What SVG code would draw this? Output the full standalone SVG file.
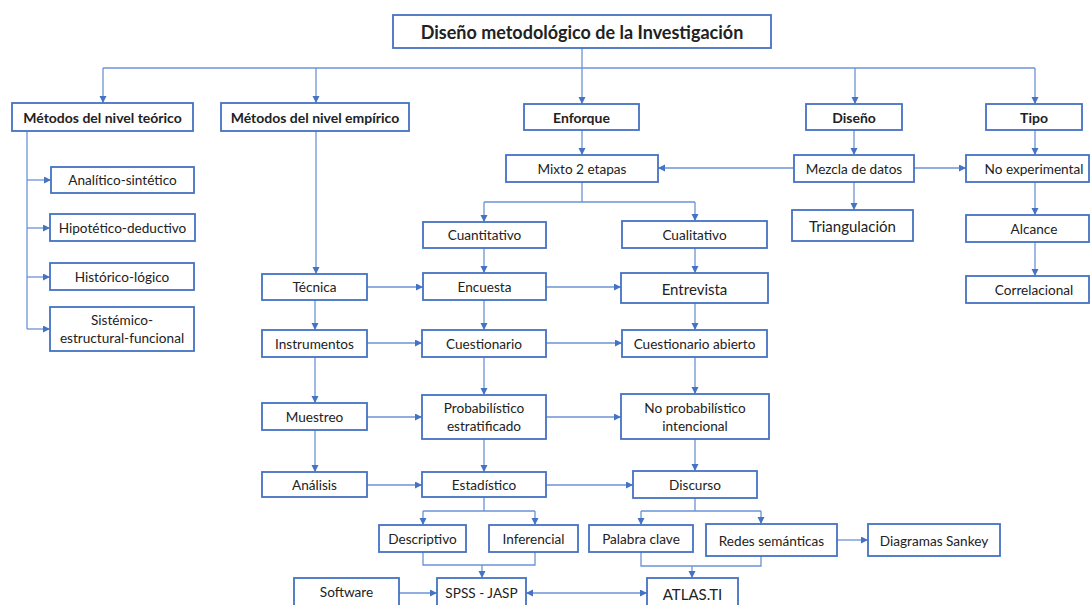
<svg xmlns="http://www.w3.org/2000/svg" width="1091" height="605" viewBox="0 0 1091 605">
<style>
.box{fill:#fff;stroke:#4472C4;stroke-width:1.8}
.t{font-family:Lato,"Liberation Sans",sans-serif;font-size:13.6px;fill:#222;text-anchor:middle;dominant-baseline:central}
.b{font-weight:bold;font-size:14px}
.l{font-size:15px}
.c{fill:none;stroke:#6b93d6;stroke-width:1.3}
.a{marker-end:url(#ah)}
</style>
<defs>
<marker id="ah" markerUnits="userSpaceOnUse" markerWidth="8" markerHeight="8" refX="7" refY="3.5" orient="auto-start-reverse">
<path d="M0,0 L7,3.5 L0,7 z" fill="#4472C4"/>
</marker>
</defs>
<rect width="1091" height="605" fill="#fff"/>
<g id="connectors">
<path class="c a" d="M582,48V104"/>
<path class="c" d="M103,68H1035"/>
<path class="c a" d="M103,68V103"/>
<path class="c a" d="M316,68V103"/>
<path class="c a" d="M855,68V104"/>
<path class="c a" d="M1035,68V104"/>
<path class="c" d="M27,131V329"/>
<path class="c a" d="M27,180H51"/>
<path class="c a" d="M27,228H50"/>
<path class="c a" d="M27,277H50"/>
<path class="c a" d="M27,329H50"/>
<path class="c a" d="M316,131V274"/>
<path class="c a" d="M315,300V330"/>
<path class="c a" d="M315,357V403"/>
<path class="c a" d="M315,430V472"/>
<path class="c a" d="M367,287H423"/>
<path class="c a" d="M546,287H621"/>
<path class="c a" d="M367,343H422"/>
<path class="c a" d="M546,343H622"/>
<path class="c a" d="M367,417H422"/>
<path class="c a" d="M546,417H621"/>
<path class="c a" d="M367,485H422"/>
<path class="c a" d="M546,485H633"/>
<path class="c a" d="M582,130V155"/>
<path class="c a" d="M794,168H658"/>
<path class="c a" d="M914,168H966"/>
<path class="c a" d="M854,130V155"/>
<path class="c a" d="M854,182V210"/>
<path class="c a" d="M1035,130V155"/>
<path class="c a" d="M1035,182V215"/>
<path class="c a" d="M1035,242V276"/>
<path class="c" d="M582,182V202M484,202H695"/>
<path class="c a" d="M484,202V222"/>
<path class="c a" d="M695,202V221"/>
<path class="c a" d="M484,248V273"/>
<path class="c a" d="M484,300V330"/>
<path class="c a" d="M484,357V395"/>
<path class="c a" d="M484,439V472"/>
<path class="c a" d="M695,248V273"/>
<path class="c a" d="M695,303V330"/>
<path class="c a" d="M695,357V394"/>
<path class="c a" d="M695,439V471"/>
<path class="c" d="M484,497V511M423,511H535"/>
<path class="c a" d="M423,511V525"/>
<path class="c a" d="M535,511V525"/>
<path class="c" d="M695,498V511M641,511H761"/>
<path class="c a" d="M641,511V525"/>
<path class="c a" d="M761,511V524"/>
<path class="c" d="M423,552V565H535V552"/>
<path class="c a" d="M482,565V578"/>
<path class="c" d="M641,552V566H761V556"/>
<path class="c a" d="M692,566V578"/>
<path class="c a" d="M837,540H868"/>
<path class="c a" d="M399,593H437"/>
<path class="c a" d="M526,593H647" marker-start="url(#ah)"/>
</g>
<g id="title"><rect class="box" x="393" y="15" width="378" height="33"/><text class="t b" x="582" y="31.5" style="font-size:18px">Diseño metodológico de la Investigación</text></g>
<g id="teorico"><rect class="box" x="12" y="103" width="181" height="28"/><text class="t b" x="102.5" y="117">Métodos del nivel teórico</text></g>
<g id="empirico"><rect class="box" x="221" y="103" width="188" height="28"/><text class="t b" x="315" y="117">Métodos del nivel empírico</text></g>
<g id="enforque"><rect class="box" x="524" y="104" width="115" height="26"/><text class="t b" x="581.5" y="117">Enforque</text></g>
<g id="diseno"><rect class="box" x="806" y="104" width="96" height="26"/><text class="t b" x="854" y="117">Diseño</text></g>
<g id="tipo"><rect class="box" x="986" y="104" width="96" height="26"/><text class="t b" x="1034" y="117">Tipo</text></g>
<g id="analitico"><rect class="box" x="51" y="167" width="143" height="26"/><text class="t" x="122.5" y="180">Analítico-sintético</text></g>
<g id="hipotetico"><rect class="box" x="50" y="214" width="145" height="27"/><text class="t" x="122.5" y="227.5">Hipotético-deductivo</text></g>
<g id="historico"><rect class="box" x="50" y="263" width="144" height="27"/><text class="t" x="122" y="276.5">Histórico-lógico</text></g>
<g id="sistemico"><rect class="box" x="50" y="307" width="144" height="44"/><text class="t" x="122" y="320">Sistémico-</text><text class="t" x="122" y="338">estructural-funcional</text></g>
<g id="tecnica"><rect class="box" x="262" y="274" width="105" height="26"/><text class="t" x="314.5" y="287">Técnica</text></g>
<g id="instrumentos"><rect class="box" x="262" y="330" width="105" height="27"/><text class="t" x="314.5" y="343.5">Instrumentos</text></g>
<g id="muestreo"><rect class="box" x="262" y="403" width="105" height="27"/><text class="t" x="314.5" y="416.5">Muestreo</text></g>
<g id="analisis"><rect class="box" x="262" y="472" width="105" height="25"/><text class="t" x="314.5" y="484.5">Análisis</text></g>
<g id="mixto"><rect class="box" x="506" y="155" width="152" height="27"/><text class="t" x="582" y="168.5">Mixto 2 etapas</text></g>
<g id="mezcla"><rect class="box" x="794" y="155" width="120" height="27"/><text class="t" x="854" y="168.5">Mezcla de datos</text></g>
<g id="noexperimental"><rect class="box" x="966" y="155" width="123" height="27"/><text class="t" x="1034" y="168.5">No experimental</text></g>
<g id="triangulacion"><rect class="box" x="792" y="210" width="121" height="31"/><text class="t l" x="852.5" y="225.5">Triangulación</text></g>
<g id="alcance"><rect class="box" x="966" y="215" width="123" height="27"/><text class="t" x="1034" y="228.5">Alcance</text></g>
<g id="correlacional"><rect class="box" x="966" y="276" width="123" height="27"/><text class="t" x="1034" y="289.5">Correlacional</text></g>
<g id="cuantitativo"><rect class="box" x="423" y="222" width="123" height="26"/><text class="t" x="484.5" y="235">Cuantitativo</text></g>
<g id="cualitativo"><rect class="box" x="622" y="221" width="145" height="27"/><text class="t" x="694.5" y="234.5">Cualitativo</text></g>
<g id="encuesta"><rect class="box" x="423" y="273" width="123" height="27"/><text class="t" x="484.5" y="286.5">Encuesta</text></g>
<g id="entrevista"><rect class="box" x="621" y="273" width="147" height="30"/><text class="t l" x="694.5" y="288.5">Entrevista</text></g>
<g id="cuestionario"><rect class="box" x="422" y="330" width="124" height="27"/><text class="t" x="484" y="343.5">Cuestionario</text></g>
<g id="cuestionarioabierto"><rect class="box" x="622" y="330" width="145" height="27"/><text class="t" x="694.5" y="343.5">Cuestionario abierto</text></g>
<g id="probabilistico"><rect class="box" x="422" y="395" width="124" height="44"/><text class="t" x="484" y="408">Probabilístico</text><text class="t" x="484" y="426">estratificado</text></g>
<g id="noprobabilistico"><rect class="box" x="621" y="394" width="148" height="45"/><text class="t" x="695" y="408">No probabilístico</text><text class="t" x="695" y="426">intencional</text></g>
<g id="estadistico"><rect class="box" x="422" y="472" width="124" height="25"/><text class="t" x="484" y="484.5">Estadístico</text></g>
<g id="discurso"><rect class="box" x="633" y="471" width="124" height="27"/><text class="t" x="695" y="484.5">Discurso</text></g>
<g id="descriptivo"><rect class="box" x="379" y="525" width="87" height="27"/><text class="t" x="422.5" y="538.5">Descriptivo</text></g>
<g id="inferencial"><rect class="box" x="489" y="525" width="89" height="27"/><text class="t" x="533.5" y="538.5">Inferencial</text></g>
<g id="palabraclave"><rect class="box" x="589" y="525" width="104" height="27"/><text class="t" x="641" y="538.5">Palabra clave</text></g>
<g id="redes"><rect class="box" x="706" y="524" width="131" height="32"/><text class="t" x="771.5" y="541">Redes semánticas</text></g>
<g id="sankey"><rect class="box" x="868" y="524" width="132" height="32"/><text class="t" x="934" y="541">Diagramas Sankey</text></g>
<g id="software"><rect class="box" x="294" y="578" width="105" height="28"/><text class="t" x="346.5" y="592">Software</text></g>
<g id="spss"><rect class="box" x="437" y="578" width="89" height="28"/><text class="t" x="481.5" y="593">SPSS - JASP</text></g>
<g id="atlas"><rect class="box" x="647" y="578" width="91" height="28"/><text class="t l" x="692.5" y="594">ATLAS.TI</text></g>
</svg>
